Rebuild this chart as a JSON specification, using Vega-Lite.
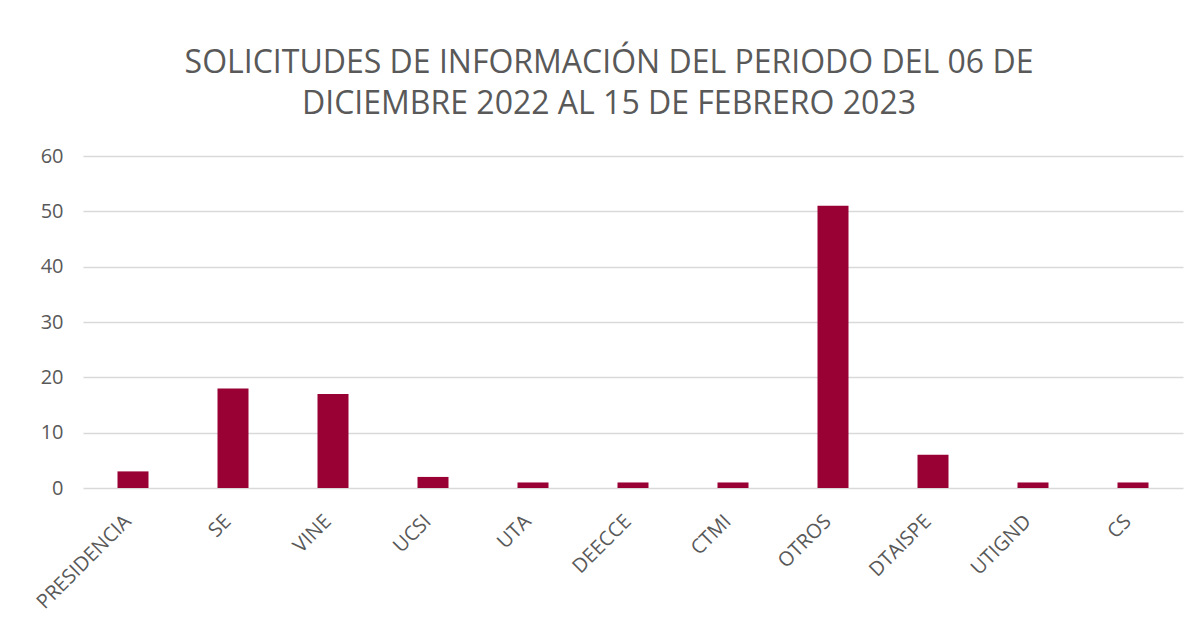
{
  "$schema": "https://vega.github.io/schema/vega-lite/v6.json",
  "width": 1100,
  "height": 332,
  "autosize": {"type": "none"},
  "padding": {"left": 83, "top": 156, "right": 16, "bottom": 147},
  "background": "white",
  "title": {
    "text": ["SOLICITUDES DE INFORMACIÓN DEL PERIODO DEL 06 DE", "DICIEMBRE 2022 AL 15 DE FEBRERO 2023"],
    "font": "Open Sans",
    "fontSize": 32,
    "fontWeight": "normal",
    "color": "#595959",
    "anchor": "middle",
    "dx": -24,
    "offset": 25,
    "lineHeight": 41
  },
  "data": {
    "values": [
      {"area": "PRESIDENCIA", "n": 3},
      {"area": "SE", "n": 18},
      {"area": "VINE", "n": 17},
      {"area": "UCSI", "n": 2},
      {"area": "UTA", "n": 1},
      {"area": "DEECCE", "n": 1},
      {"area": "CTMI", "n": 1},
      {"area": "OTROS", "n": 51},
      {"area": "DTAISPE", "n": 6},
      {"area": "UTIGND", "n": 1},
      {"area": "CS", "n": 1}
    ]
  },
  "mark": {"type": "bar", "color": "#990033"},
  "encoding": {
    "x": {
      "field": "area",
      "type": "nominal",
      "sort": null,
      "title": null,
      "scale": {"paddingInner": 0.69, "paddingOuter": 0.345},
      "axis": {
        "labelAngle": -45,
        "labelAlign": "right",
        "labelBaseline": "middle",
        "labelFont": "Open Sans",
        "labelFontSize": 20,
        "labelColor": "#595959",
        "labelPadding": 30,
        "labelOffset": -5,
        "ticks": false,
        "domain": false,
        "grid": false
      }
    },
    "y": {
      "field": "n",
      "type": "quantitative",
      "title": null,
      "scale": {"domain": [0, 60]},
      "axis": {
        "values": [0, 10, 20, 30, 40, 50, 60],
        "labelFont": "Open Sans",
        "labelFontSize": 20,
        "labelColor": "#595959",
        "labelPadding": 20,
        "ticks": false,
        "domain": false,
        "gridColor": "#d9d9d9",
        "gridWidth": 1.3
      }
    }
  },
  "config": {"view": {"stroke": null}}
}
